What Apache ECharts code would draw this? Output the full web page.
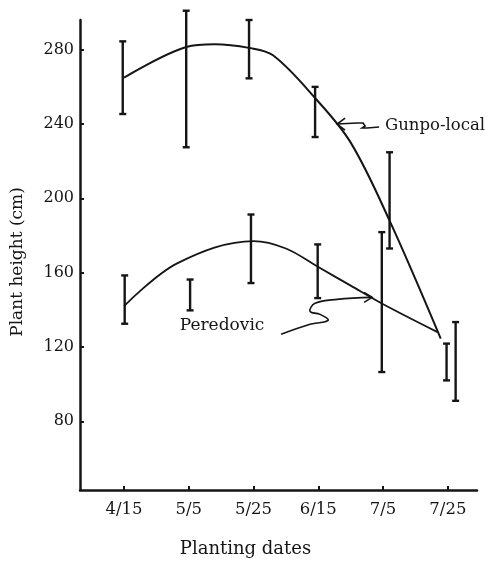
<!DOCTYPE html>
<html>
<head>
<meta charset="utf-8">
<script src="https://cdn.jsdelivr.net/npm/echarts@6/dist/echarts.min.js"></script>
<style>
  html, body { margin: 0; padding: 0; background: #fff; }
  #chart { width: 493px; height: 565px; }
</style>
</head>
<body>
<div id="chart"></div>
<script>
// planting dates (x axis categories, placed at 0..5)
const dates = ['4/15', '5/5', '5/25', '6/15', '7/5', '7/25'];
const yTicks = [80, 120, 160, 200, 240, 280];

// Gunpo-local: fitted curve (x in date index units, y in cm)
const gunpoLineX = [0, 0.96, 1.4, 1.93, 2.3, 2.95, 3.5, 4.1, 4.89];
const gunpoLineY = [265, 281.5, 283, 281, 277, 254, 230, 188, 124.5];
// Gunpo-local: error bars
const gunpoBarX = [-0.02, 0.96, 1.93, 2.95, 4.1, 5.12];
const gunpoLow = [245.4, 227.5, 264.6, 233, 173, 91];
const gunpoHigh = [284.5, 301, 296, 260, 224.8, 133.4];

// Peredovic: fitted curve
const peredLineX = [0, 0.82, 2, 2.5, 3, 3.5, 3.98, 4.84];
const peredLineY = [142, 165, 177, 173, 163, 153, 143.4, 128];
// Peredovic: error bars
const peredBarX = [0.01, 1.02, 1.96, 2.99, 3.98, 4.98];
const peredLow = [132.5, 139.7, 154.4, 146.3, 106.5, 102];
const peredHigh = [158.5, 156.3, 191.3, 175.2, 181.8, 121.8];

const FONT = 'DejaVu Serif';
const INK = '#151515';

const zip2 = (a, b) => a.map((v, i) => [v, b[i]]);
const zip3 = (a, b, c) => a.map((v, i) => [v, b[i], c[i]]);

const errorBar = (params, api) => {
  const lo = api.coord([api.value(0), api.value(1)]);
  const hi = api.coord([api.value(0), api.value(2)]);
  const w = 3.5;
  const style = { stroke: INK, lineWidth: 2.4 };
  return {
    type: 'group',
    children: [
      { type: 'line', shape: { x1: lo[0], y1: lo[1], x2: hi[0], y2: hi[1] }, style },
      { type: 'line', shape: { x1: lo[0] - w, y1: lo[1], x2: lo[0] + w, y2: lo[1] }, style },
      { type: 'line', shape: { x1: hi[0] - w, y1: hi[1], x2: hi[0] + w, y2: hi[1] }, style }
    ]
  };
};

const chart = echarts.init(document.getElementById('chart'), null, { renderer: 'canvas' });

chart.setOption({
  animation: false,
  backgroundColor: '#fff',
  grid: { left: 80, right: 16, top: 20, bottom: 75 },
  xAxis: {
    type: 'value',
    min: -0.68,
    max: 5.45,
    splitLine: { show: false },
    axisLine: { onZero: false, lineStyle: { color: INK, width: 2.5 } },
    axisTick: { inside: true, length: 4, lineStyle: { color: INK, width: 2 }, customValues: dates.map((d, i) => i) },
    axisLabel: {
      customValues: dates.map((d, i) => i),
      formatter: v => dates[Math.round(v)],
      color: INK, fontFamily: FONT, fontSize: 16.5, margin: 11
    },
    name: 'Planting dates',
    nameLocation: 'middle',
    nameGap: 50,
    nameTextStyle: { color: INK, fontFamily: FONT, fontSize: 18, padding: [0, 66, 0, 0] }
  },
  yAxis: {
    type: 'value',
    min: 43,
    max: 296,
    splitLine: { show: false },
    axisLine: { onZero: false, lineStyle: { color: INK, width: 2.5 } },
    axisTick: { inside: true, length: 4, lineStyle: { color: INK, width: 2 }, customValues: yTicks },
    axisLabel: { customValues: yTicks, color: INK, fontFamily: FONT, fontSize: 16, margin: 6 },
    name: 'Plant height (cm)',
    nameLocation: 'middle',
    nameRotate: 90,
    nameGap: 54,
    nameTextStyle: { color: INK, fontFamily: FONT, fontSize: 17, padding: [0, 0, 0, -14] }
  },
  series: [
    {
      name: 'Gunpo-local', type: 'line', smooth: 0.35, showSymbol: false,
      lineStyle: { color: INK, width: 2 }, data: zip2(gunpoLineX, gunpoLineY)
    },
    {
      name: 'Peredovic', type: 'line', smooth: 0.35, showSymbol: false,
      lineStyle: { color: INK, width: 1.8 }, data: zip2(peredLineX, peredLineY)
    },
    { type: 'custom', clip: false, renderItem: errorBar, data: zip3(gunpoBarX, gunpoLow, gunpoHigh) },
    { type: 'custom', clip: false, renderItem: errorBar, data: zip3(peredBarX, peredLow, peredHigh) }
  ]
});

// labels with hand-drawn arrows, anchored in data space
const px = p => chart.convertToPixel({ gridIndex: 0 }, p);
const shift = (o, pts) => pts.map(p => [o[0] + p[0], o[1] + p[1]]);
const gTip = px([3.29, 240]);
const pTip = px([3.83, 146.7]);
const gText = px([4.03, 239]);
const pText = px([0.86, 131.7]);
const arrowStyle = { stroke: INK, lineWidth: 1.6, fill: null };

chart.setOption({
  graphic: [
    { type: 'text', x: gText[0], y: gText[1], style: { text: 'Gunpo-local', font: '16.5px "' + FONT + '"', fill: INK, verticalAlign: 'middle' } },
    { type: 'text', x: pText[0], y: pText[1], style: { text: 'Peredovic', font: '17px "' + FONT + '"', fill: INK, verticalAlign: 'middle' } },
    { type: 'polyline', shape: { points: shift(gTip, [[0, 0], [20, -1], [26, -1], [28, 2], [25, 4], [30, 4], [42, 3]]) }, style: arrowStyle },
    { type: 'polyline', shape: { points: shift(gTip, [[8, -6], [0, 0], [8, 6]]) }, style: arrowStyle },
    { type: 'polyline', shape: { points: shift(pTip, [[-91, 37], [-62, 27], [-44, 23], [-52, 17], [-62, 14], [-57, 6], [-35, 2], [0, 0]]), smooth: 0.4 }, style: arrowStyle },
    { type: 'polyline', shape: { points: shift(pTip, [[-8, -5], [0, 0], [-8, 5]]) }, style: arrowStyle }
  ]
});

window.addEventListener('resize', () => chart.resize());
</script>
</body>
</html>
